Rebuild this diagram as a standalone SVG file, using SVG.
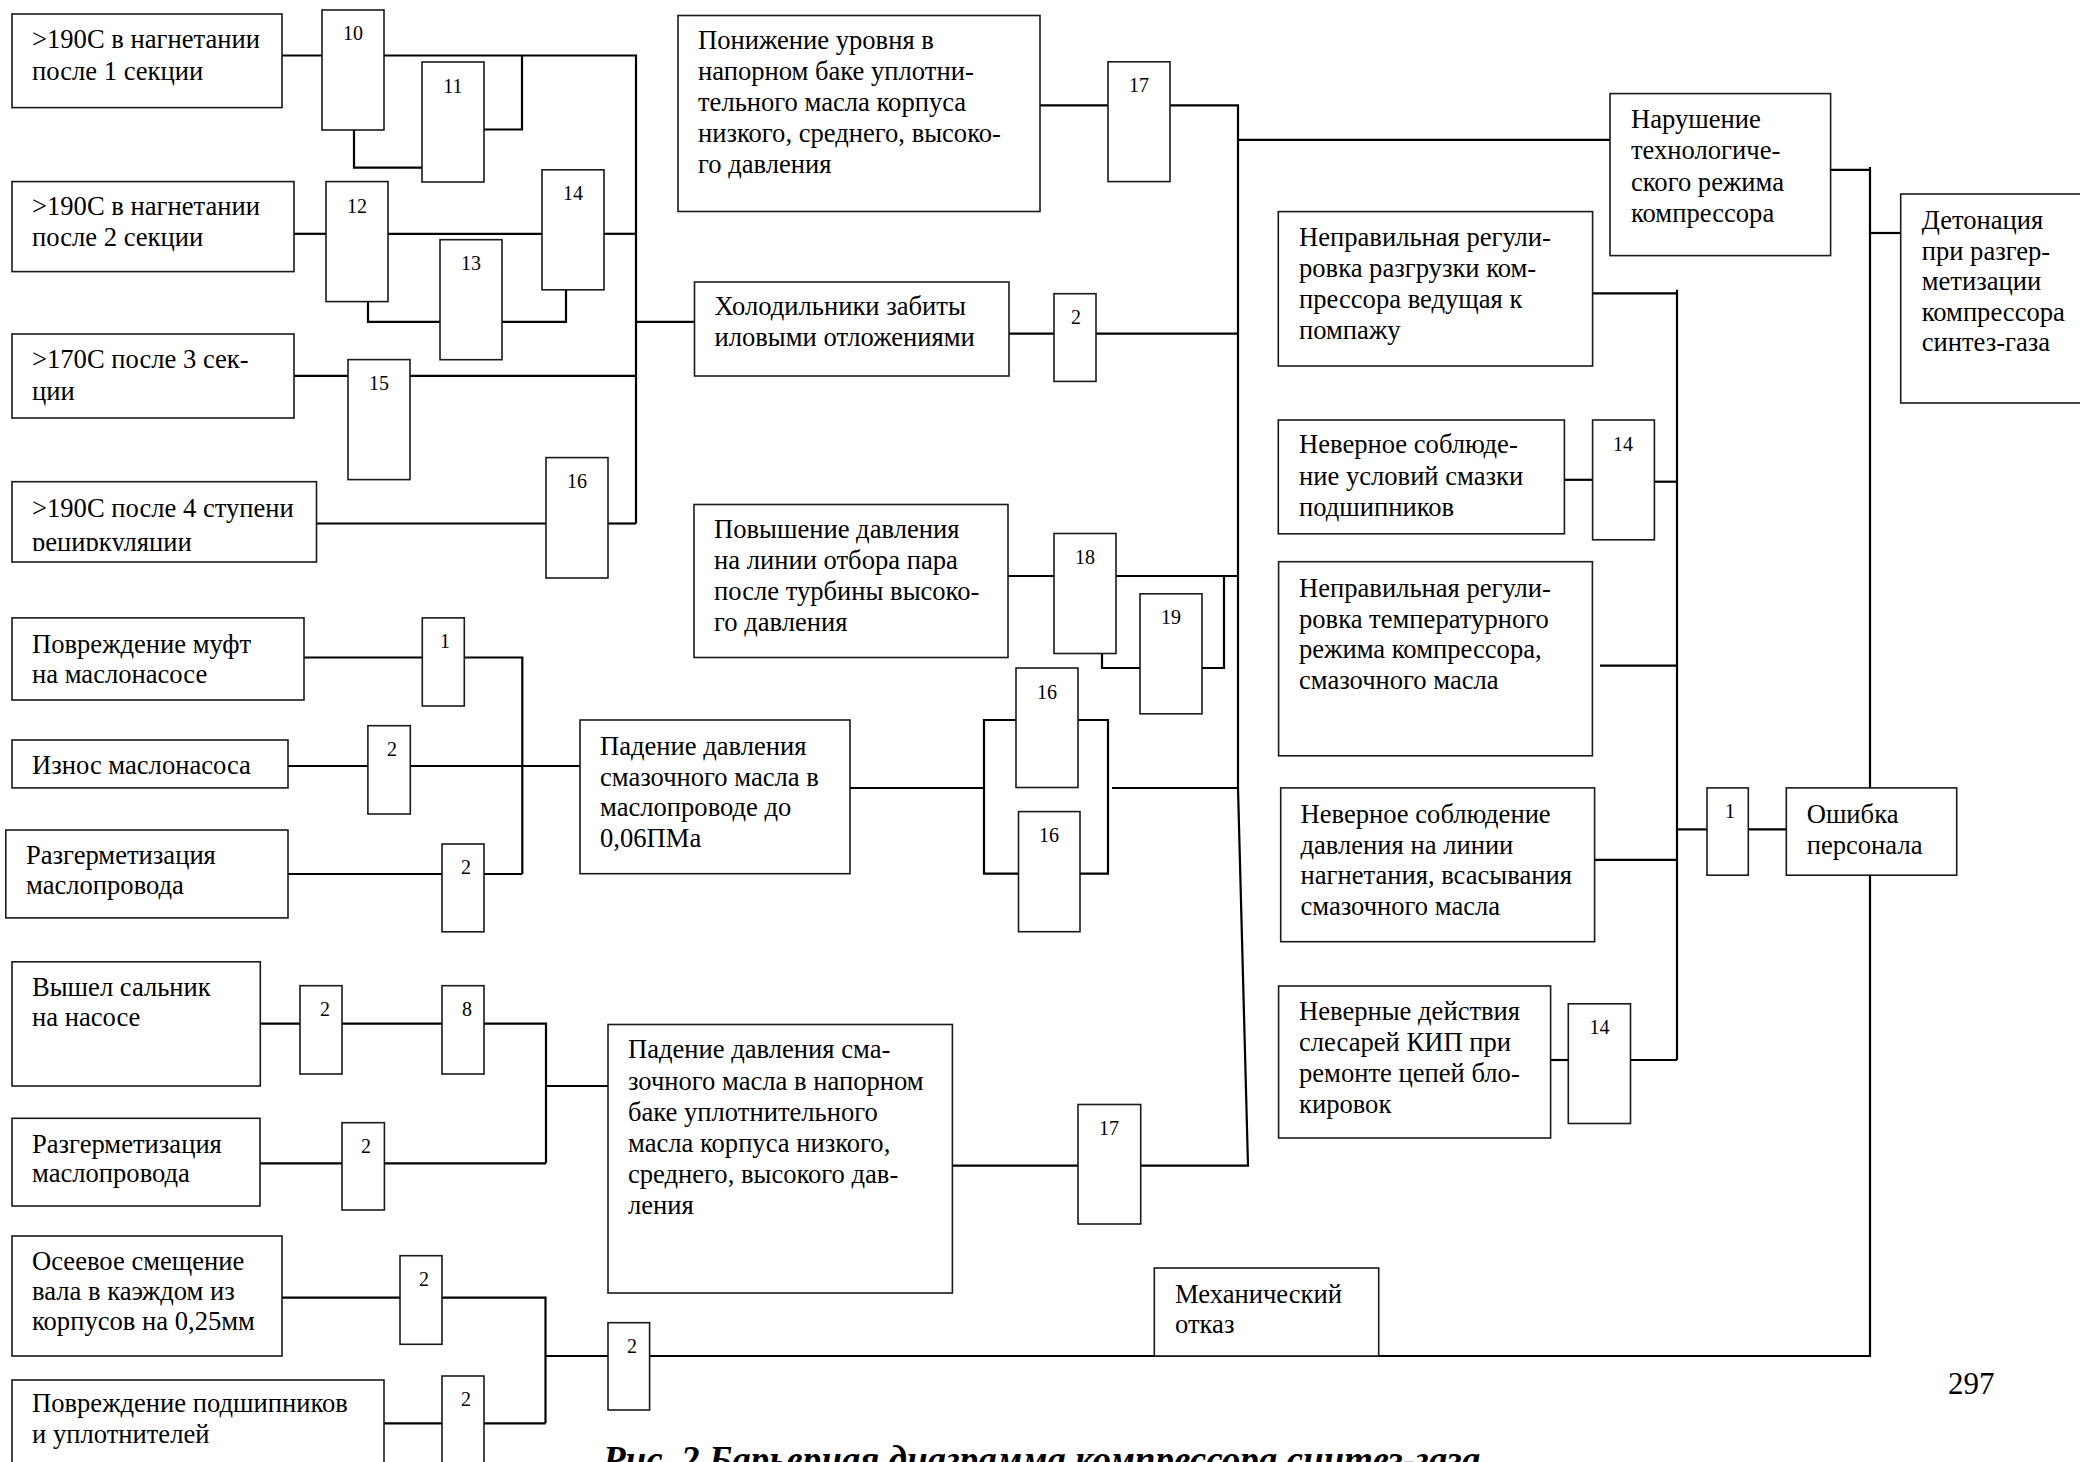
<svg xmlns="http://www.w3.org/2000/svg" width="2080" height="1462" viewBox="0 0 2080 1462">
  <defs>
    <style>
      .box { fill: #fff; stroke: #1a1a1a; stroke-width: 1.6; }
      .t { font-family: "Liberation Serif", "Times New Roman", serif; font-size: 26.6px; fill: #000; }
      .n { font-family: "Liberation Serif", "Times New Roman", serif; font-size: 20px; fill: #000; text-anchor: middle; }
      .wire { fill: none; stroke: #000; stroke-width: 2.2; }
      .cap { font-family: "Liberation Serif", "Times New Roman", serif; font-size: 37px; font-weight: bold; font-style: italic; fill: #000; }
      .pg { font-family: "Liberation Serif", "Times New Roman", serif; font-size: 31px; fill: #000; }
    </style>
    <clipPath id="clipA4">
      <rect x="12" y="481" width="305" height="70"/>
    </clipPath>
  </defs>
  <rect width="2080" height="1462" fill="#fff"/>

  <!-- connectors -->
  <g id="connectors" class="wire">
    <!-- upper-left temperature group -->
    <path d="M282 55.5 H322"/>
    <path d="M384 55.5 H636 V523.5"/>
    <path d="M484 129.5 H522 V55.5"/>
    <path d="M354 130 V167.6 H422"/>
    <path d="M294 233.8 H326"/>
    <path d="M388 233.8 H542"/>
    <path d="M604 233.8 H636"/>
    <path d="M368 301.5 V321.9 H440"/>
    <path d="M502 321.9 H566 V289.7"/>
    <path d="M636 321.9 H694.5"/>
    <path d="M294 375.9 H348"/>
    <path d="M410 375.9 H636"/>
    <path d="M316.5 523.5 H546"/>
    <path d="M608 523.5 H636"/>
    <!-- middle column -->
    <path d="M1040 105.4 H1108"/>
    <path d="M1170 105.4 H1238 V788 L1248 1165.6 H1140.7"/>
    <path d="M1238 139.8 H1610"/>
    <path d="M1009 333.7 H1054"/>
    <path d="M1096 333.7 H1238"/>
    <path d="M1008 576 H1054"/>
    <path d="M1116 576 H1238"/>
    <path d="M1224 576 V668 H1202"/>
    <path d="M1102 653.6 V668 H1140"/>
    <path d="M850 788 H984"/>
    <path d="M1016 720 H984 V873.7 H1018.5"/>
    <path d="M1078 720 H1108 V873.7 H1080"/>
    <path d="M1112 788 H1238"/>
    <path d="M952 1165.6 H1078"/>
    <!-- lower-left oil pressure group -->
    <path d="M304 657.5 H422.3"/>
    <path d="M464.3 657.5 H522.3 V874"/>
    <path d="M288 766 H367.9"/>
    <path d="M410.3 766 H580"/>
    <path d="M288 874 H442"/>
    <path d="M484 874 H522.3"/>
    <path d="M260.3 1023.6 H300"/>
    <path d="M342 1023.6 H442"/>
    <path d="M484 1023.6 H546 V1163.3"/>
    <path d="M546 1086 H608"/>
    <path d="M260 1163.3 H342"/>
    <path d="M384.4 1163.3 H546"/>
    <path d="M282 1297.7 H400"/>
    <path d="M442 1297.7 H545.5 V1423.3"/>
    <path d="M545.5 1356 H608"/>
    <path d="M649.6 1356 H1870 V875.2"/>
    <path d="M384 1423.3 H442"/>
    <path d="M484 1423.3 H545.5"/>
    <!-- right side -->
    <path d="M1830.6 169.8 H1870"/>
    <path d="M1870 167 V787.9"/>
    <path d="M1870 233 H1900.7"/>
    <path d="M1592.6 293.4 H1677"/>
    <path d="M1677 289.7 V1060"/>
    <path d="M1564.4 479.8 H1592.6"/>
    <path d="M1654.4 481.7 H1677"/>
    <path d="M1600 665.7 H1677"/>
    <path d="M1594.6 859.8 H1677"/>
    <path d="M1677 829.4 H1707"/>
    <path d="M1748.3 829.4 H1786.3"/>
    <path d="M1550.6 1060 H1568.3"/>
    <path d="M1630.5 1060 H1677"/>
  </g>

  <!-- event boxes -->
  <g id="e-t1">
    <rect class="box" x="12" y="14" width="270" height="93.6"/>
    <text class="t"><tspan x="32" y="48">&gt;190С в нагнетании</tspan><tspan x="32" y="79.5">после 1 секции</tspan></text>
  </g>
  <g id="e-t2">
    <rect class="box" x="12" y="181.6" width="282" height="90"/>
    <text class="t"><tspan x="32" y="214.6">&gt;190С в нагнетании</tspan><tspan x="32" y="246">после 2 секции</tspan></text>
  </g>
  <g id="e-t3">
    <rect class="box" x="12" y="334" width="282" height="84"/>
    <text class="t"><tspan x="32" y="368">&gt;170С после 3 сек-</tspan><tspan x="32" y="399.5">ции</tspan></text>
  </g>
  <g id="e-t4">
    <rect class="box" x="12" y="481.7" width="304.5" height="80.3"/>
    <text class="t" clip-path="url(#clipA4)"><tspan x="32" y="516.8">&gt;190С после 4 ступени</tspan><tspan x="32" y="551">рециркуляции</tspan></text>
  </g>
  <g id="e-level">
    <rect class="box" x="678" y="15.5" width="362" height="196"/>
    <text class="t"><tspan x="698" y="49">Понижение уровня в</tspan><tspan x="698" y="80">напорном баке уплотни-</tspan><tspan x="698" y="111">тельного масла корпуса</tspan><tspan x="698" y="142">низкого, среднего, высоко-</tspan><tspan x="698" y="173">го давления</tspan></text>
  </g>
  <g id="e-coolers">
    <rect class="box" x="694.5" y="282" width="314.5" height="94"/>
    <text class="t"><tspan x="714.5" y="314.5">Холодильники забиты</tspan><tspan x="714.5" y="346">иловыми отложениями</tspan></text>
  </g>
  <g id="e-steam">
    <rect class="box" x="694" y="504.5" width="314" height="153"/>
    <text class="t"><tspan x="714" y="537.5">Повышение давления</tspan><tspan x="714" y="569">на линии отбора пара</tspan><tspan x="714" y="600">после турбины высоко-</tspan><tspan x="714" y="631">го давления</tspan></text>
  </g>
  <g id="e-oil-line">
    <rect class="box" x="580" y="720" width="270" height="153.7"/>
    <text class="t"><tspan x="600" y="754.5">Падение давления</tspan><tspan x="600" y="785.5">смазочного масла в</tspan><tspan x="600" y="816">маслопроводе до</tspan><tspan x="600" y="847">0,06ПМа</tspan></text>
  </g>
  <g id="e-oil-tank">
    <rect class="box" x="608" y="1024.5" width="344.4" height="268.5"/>
    <text class="t"><tspan x="628" y="1058">Падение давления сма-</tspan><tspan x="628" y="1089.5">зочного масла в напорном</tspan><tspan x="628" y="1120.5">баке уплотнительного</tspan><tspan x="628" y="1151.5">масла корпуса низкого,</tspan><tspan x="628" y="1182.5">среднего, высокого дав-</tspan><tspan x="628" y="1213.5">ления</tspan></text>
  </g>
  <g id="e-mech">
    <rect class="box" x="1154.3" y="1268" width="224.4" height="88"/>
    <text class="t"><tspan x="1175" y="1302.7">Механический</tspan><tspan x="1175" y="1333.3">отказ</tspan></text>
  </g>
  <g id="e-regime">
    <rect class="box" x="1610" y="93.6" width="220.6" height="162"/>
    <text class="t"><tspan x="1631" y="127.6">Нарушение</tspan><tspan x="1631" y="159">технологиче-</tspan><tspan x="1631" y="190.5">ского режима</tspan><tspan x="1631" y="221.5">компрессора</tspan></text>
  </g>
  <g id="e-top">
    <rect class="box" x="1900.7" y="194" width="200" height="209"/>
    <text class="t"><tspan x="1921.7" y="229">Детонация</tspan><tspan x="1921.7" y="259.5">при разгер-</tspan><tspan x="1921.7" y="290">метизации</tspan><tspan x="1921.7" y="320.5">компрессора</tspan><tspan x="1921.7" y="351">синтез-газа</tspan></text>
  </g>
  <g id="e-surge">
    <rect class="box" x="1278.3" y="211.6" width="314.3" height="154.4"/>
    <text class="t"><tspan x="1299" y="246">Неправильная регули-</tspan><tspan x="1299" y="277">ровка разгрузки ком-</tspan><tspan x="1299" y="308">прессора ведущая к</tspan><tspan x="1299" y="338.5">помпажу</tspan></text>
  </g>
  <g id="e-bearing-lube">
    <rect class="box" x="1278.3" y="420" width="286.1" height="113.8"/>
    <text class="t"><tspan x="1299" y="453">Неверное соблюде-</tspan><tspan x="1299" y="484.5">ние условий смазки</tspan><tspan x="1299" y="515.5">подшипников</tspan></text>
  </g>
  <g id="e-temp-reg">
    <rect class="box" x="1278.6" y="561.7" width="313.8" height="194.1"/>
    <text class="t"><tspan x="1299" y="597">Неправильная регули-</tspan><tspan x="1299" y="627.5">ровка температурного</tspan><tspan x="1299" y="658">режима компрессора,</tspan><tspan x="1299" y="689">смазочного масла</tspan></text>
  </g>
  <g id="e-pressure">
    <rect class="box" x="1280.7" y="787.9" width="313.9" height="153.8"/>
    <text class="t"><tspan x="1300.5" y="823">Неверное соблюдение</tspan><tspan x="1300.5" y="853.5">давления на линии</tspan><tspan x="1300.5" y="884">нагнетания, всасывания</tspan><tspan x="1300.5" y="914.5">смазочного масла</tspan></text>
  </g>
  <g id="e-kip">
    <rect class="box" x="1278.6" y="986" width="272" height="152"/>
    <text class="t"><tspan x="1299" y="1020">Неверные действия</tspan><tspan x="1299" y="1051">слесарей КИП при</tspan><tspan x="1299" y="1082">ремонте цепей бло-</tspan><tspan x="1299" y="1113">кировок</tspan></text>
  </g>
  <g id="e-staff">
    <rect class="box" x="1786.3" y="787.9" width="170.4" height="87.3"/>
    <text class="t"><tspan x="1806.7" y="823">Ошибка</tspan><tspan x="1806.7" y="853.5">персонала</tspan></text>
  </g>
  <g id="e-coupling">
    <rect class="box" x="12" y="617.9" width="292" height="82.1"/>
    <text class="t"><tspan x="32" y="652.9">Повреждение муфт</tspan><tspan x="32" y="683">на маслонасосе</tspan></text>
  </g>
  <g id="e-pump-wear">
    <rect class="box" x="12" y="740" width="276" height="47.9"/>
    <text class="t"><tspan x="32" y="774">Износ маслонасоса</tspan></text>
  </g>
  <g id="e-leak1">
    <rect class="box" x="5.8" y="830" width="282.2" height="87.9"/>
    <text class="t"><tspan x="26" y="863.6">Разгерметизация</tspan><tspan x="26" y="894">маслопровода</tspan></text>
  </g>
  <g id="e-gland">
    <rect class="box" x="12" y="961.8" width="248.3" height="124.2"/>
    <text class="t"><tspan x="32" y="995.7">Вышел сальник</tspan><tspan x="32" y="1026">на насосе</tspan></text>
  </g>
  <g id="e-leak2">
    <rect class="box" x="12" y="1118.3" width="248" height="87.7"/>
    <text class="t"><tspan x="32" y="1152.7">Разгерметизация</tspan><tspan x="32" y="1181.7">маслопровода</tspan></text>
  </g>
  <g id="e-shaft">
    <rect class="box" x="12" y="1236" width="270" height="120"/>
    <text class="t"><tspan x="32" y="1270">Осеевое смещение</tspan><tspan x="32" y="1300">вала в каэждом из</tspan><tspan x="32" y="1330">корпусов на 0,25мм</tspan></text>
  </g>
  <g id="e-bearings">
    <rect class="box" x="12" y="1380" width="372" height="100"/>
    <text class="t"><tspan x="32" y="1411.7">Повреждение подшипников</tspan><tspan x="32" y="1443.3">и уплотнителей</tspan></text>
  </g>

  <!-- barriers -->
  <g id="b10"><rect class="box" x="322" y="10" width="62" height="120"/><text class="n" x="353" y="40">10</text></g>
  <g id="b11"><rect class="box" x="422" y="62" width="62" height="120"/><text class="n" x="453" y="92.5">11</text></g>
  <g id="b12"><rect class="box" x="326" y="181.6" width="62" height="120"/><text class="n" x="357" y="212.6">12</text></g>
  <g id="b13"><rect class="box" x="440" y="239.7" width="62" height="120"/><text class="n" x="471" y="270">13</text></g>
  <g id="b14a"><rect class="box" x="542" y="169.8" width="62" height="120"/><text class="n" x="573" y="200">14</text></g>
  <g id="b15"><rect class="box" x="348" y="359.6" width="62" height="120"/><text class="n" x="379" y="390">15</text></g>
  <g id="b16a"><rect class="box" x="546" y="457.6" width="62" height="120.4"/><text class="n" x="577" y="488">16</text></g>
  <g id="b17a"><rect class="box" x="1108" y="61.8" width="62" height="119.8"/><text class="n" x="1139" y="92">17</text></g>
  <g id="b2-cool"><rect class="box" x="1054" y="293.7" width="42" height="87.7"/><text class="n" x="1076" y="324">2</text></g>
  <g id="b18"><rect class="box" x="1054" y="533.5" width="62" height="120"/><text class="n" x="1085" y="564">18</text></g>
  <g id="b19"><rect class="box" x="1140" y="593.8" width="62" height="120"/><text class="n" x="1171" y="624">19</text></g>
  <g id="b16b"><rect class="box" x="1016" y="668" width="62" height="119.5"/><text class="n" x="1047" y="698.5">16</text></g>
  <g id="b16c"><rect class="box" x="1018.5" y="811.6" width="61.5" height="120.1"/><text class="n" x="1049" y="842">16</text></g>
  <g id="b17b"><rect class="box" x="1078" y="1104.5" width="62.7" height="119.5"/><text class="n" x="1109" y="1135">17</text></g>
  <g id="b14b"><rect class="box" x="1592.6" y="420" width="61.8" height="119.8"/><text class="n" x="1623" y="450.5">14</text></g>
  <g id="b1-staff"><rect class="box" x="1707" y="787.9" width="41.3" height="87.3"/><text class="n" x="1730" y="818">1</text></g>
  <g id="b14c"><rect class="box" x="1568.3" y="1003.8" width="62.2" height="119.7"/><text class="n" x="1599.5" y="1034">14</text></g>
  <g id="b1-coupling"><rect class="box" x="422.3" y="617.9" width="42" height="88.1"/><text class="n" x="445" y="648">1</text></g>
  <g id="b2-wear"><rect class="box" x="367.9" y="725.7" width="42.4" height="88.3"/><text class="n" x="392" y="756">2</text></g>
  <g id="b2-leak1"><rect class="box" x="442" y="844" width="42" height="87.8"/><text class="n" x="466" y="874">2</text></g>
  <g id="b2-gland"><rect class="box" x="300" y="985.7" width="42" height="88.3"/><text class="n" x="325" y="1016">2</text></g>
  <g id="b8"><rect class="box" x="442" y="985.7" width="42" height="88.3"/><text class="n" x="467" y="1016">8</text></g>
  <g id="b2-leak2"><rect class="box" x="342" y="1122.7" width="42.4" height="87.3"/><text class="n" x="366" y="1153">2</text></g>
  <g id="b2-shaft"><rect class="box" x="400" y="1255.7" width="42" height="88.6"/><text class="n" x="424" y="1286">2</text></g>
  <g id="b2-mech"><rect class="box" x="608" y="1322.7" width="41.6" height="87.3"/><text class="n" x="632" y="1353">2</text></g>
  <g id="b2-bearings"><rect class="box" x="442" y="1376" width="42" height="100"/><text class="n" x="466" y="1406">2</text></g>

  <!-- caption and page number -->
  <text class="pg" x="1948" y="1394">297</text>
  <text class="cap" x="603" y="1472">Рис. 2 Барьерная диаграмма компрессора синтез-газа</text>
</svg>
